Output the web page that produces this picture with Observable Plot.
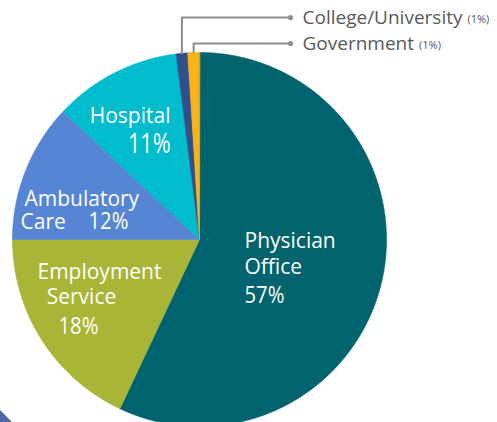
<!DOCTYPE html>
<html><head><meta charset="utf-8">
<script src="https://cdn.jsdelivr.net/npm/d3@7"></script>
<script src="https://cdn.jsdelivr.net/npm/@observablehq/plot@0.6"></script>
<style>html,body{margin:0;padding:0;background:#fff;overflow:hidden}svg{display:block}
#chart{position:relative;width:497px;height:422px}
#corner{position:absolute;left:0;top:410px;width:0;height:0;border-left:12px solid #4a69a6;border-top:12px solid transparent}
</style>
</head><body><div id="chart"><div id="corner"></div></div>
<script>
// ---- data ----
const categories = ["Physician Office","Employment Service","Ambulatory Care","Hospital","College/University","Government"];
const shares = [57, 18, 12, 11, 1, 1];
const nameLines = [["Physician","Office"],["Employment","Service"],["Ambulatory","Care"],["Hospital"],["College/University"],["Government"]];
const pctLabels = shares.map(s => s + "%");
const colors = ["#00636d","#a8b537","#5685d6","#00bccc","#30508c","#f9b317"];

// ---- layout (pixels) ----
const W = 497, H = 422, CX = 199, CY = 239, R = 187;
const ux = px => (px - CX) / R, uy = py => (CY - py) / R;
const mainFont = "'Open Sans', sans-serif";
// label rows per slice: [dx, dy, fontSize] relative to centroid at r=0.6
const labelLayout = [
  {anchor: "start", rows: [[-64.5, -23.2, 21], [-64.5, 2.8, 21], [-64.5, 31.5, 23]]},
  {anchor: "middle", rows: [[-5.3, -27.8, 21], [-23.3, -2.8, 21], [-26.3, 26.9, 23]]},
  {anchor: "start", rows: [[-70.7, 0.6, 21], [-74.7, 23.6, 21], [-6.7, 23.3, 23]]},
  {anchor: "end", rows: [[21.9, -23.7, 21], [21.9, 5, 28]]}
];
const calloutLevels = {4: 17, 5: 43}; // pixel y of callout rows
const calloutDotX = 290, calloutTextX = 302;

// ---- geometry ----
const total = d3.sum(shares);
let acc = 0;
const slices = shares.map((s, i) => {
  const a0 = acc / total * 2 * Math.PI; acc += s;
  const a1 = acc / total * 2 * Math.PI;
  return {i, a0, a1, mid: (a0 + a1) / 2};
});
function arcPoints(sl) {
  const p = [{x: 0, y: 0}];
  const n = Math.max(2, Math.ceil((sl.a1 - sl.a0) / 0.01));
  for (let k = 0; k <= n; k++) {
    const a = sl.a0 + (sl.a1 - sl.a0) * k / n;
    p.push({x: Math.sin(a), y: Math.cos(a)});
  }
  return p;
}

const marks = [];
for (const sl of slices) {
  marks.push(Plot.line(arcPoints(sl), {x: "x", y: "y", fill: colors[sl.i], stroke: colors[sl.i], strokeWidth: 0.6, curve: "linear-closed"}));
}

// in-slice labels
labelLayout.forEach((lay, i) => {
  const sl = slices[i];
  const cx = 0.6 * Math.sin(sl.mid), cy = 0.6 * Math.cos(sl.mid);
  const texts = [...nameLines[i], pctLabels[i]];
  texts.forEach((t, j) => {
    const [dx, dy, fs] = lay.rows[j];
    marks.push(Plot.text([t], {x: () => cx, y: () => cy, text: d => d, dx, dy, fontSize: fs,
      fontFamily: mainFont, fill: "white", textAnchor: lay.anchor, lineAnchor: "middle"}));
  });
});

// callouts for tiny slices
const ctx = document.createElement("canvas").getContext("2d");
for (const key of Object.keys(calloutLevels)) {
  const i = +key, sl = slices[i], lvl = calloutLevels[i];
  const ex = Math.sin(sl.mid), ey = Math.cos(sl.mid);
  const path = [{x: ex, y: ey}, {x: ex, y: uy(lvl)}, {x: ux(calloutDotX), y: uy(lvl)}];
  marks.push(Plot.line(path, {x: "x", y: "y", stroke: "#8d8d8d", strokeWidth: 2}));
  marks.push(Plot.dot([0], {x: () => ux(calloutDotX), y: () => uy(lvl), r: 2.6, fill: "#8d8d8d"}));
  marks.push(Plot.text([nameLines[i][0]], {x: () => ux(calloutTextX), y: () => uy(lvl), text: d => d, fontSize: 19,
    fontFamily: mainFont, fill: "#58595b", textAnchor: "start", lineAnchor: "middle"}));
  ctx.font = "19px 'Open Sans'";
  const w = ctx.measureText(nameLines[i][0]).width;
  marks.push(Plot.text(["(" + pctLabels[i] + ")"], {x: () => ux(calloutTextX + w + 5), y: () => uy(lvl), text: d => d, fontSize: 11,
    fontFamily: mainFont, fill: "#58595b", textAnchor: "start", lineAnchor: "middle", dy: 2}));
}

const chart = Plot.plot({
  width: W, height: H, margin: 0,
  x: {domain: [ux(0), ux(W)], axis: null},
  y: {domain: [uy(H), uy(0)], axis: null},
  style: {background: "white", overflow: "hidden"},
  marks
});
const host = document.getElementById("chart");
host.insertBefore(chart, host.firstChild);
// condense the percentage labels (the reference uses a condensed face)
chart.querySelectorAll("text").forEach(t => {
  if (/^\d+%$/.test(t.textContent)) {
    const fs = parseFloat(t.closest("g").getAttribute("font-size")) || 23;
    const L = t.getComputedTextLength();
    t.setAttribute("textLength", (L * (fs >= 28 ? 0.77 : 0.88)).toFixed(1));
    t.setAttribute("lengthAdjust", "spacingAndGlyphs");
  }
});
</script>
</body></html>
